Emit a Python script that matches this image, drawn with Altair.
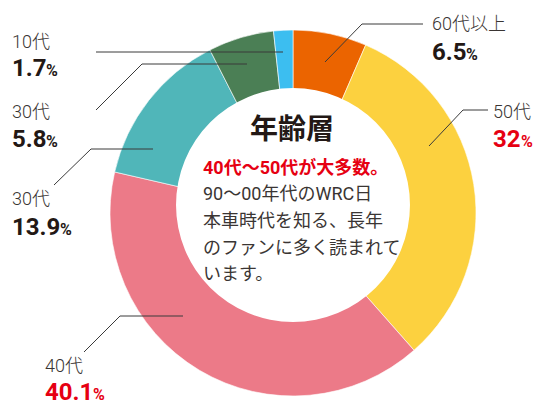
import altair as alt
import pandas as pd

# ---- data ----
seg_id = ["a60", "a50", "a40", "a30b", "a30a", "a10"]
seg_label = ["60代以上", "50代", "40代", "30代", "30代", "10代"]
seg_value = [6.5, 32, 40.1, 13.9, 5.8, 1.7]
seg_value_text = ["6.5", "32", "40.1", "13.9", "5.8", "1.7"]
seg_color = ["#EB6400", "#FCD13F", "#EC7A88", "#50B6B9", "#4B7F55", "#3CBEF0"]
val_color = ["#231815", "#E60012", "#E60012", "#231815", "#231815", "#231815"]

# ---- layout (image pixel coordinates) ----
lab_x = [432, 493, 45, 12, 12, 12]
lab_y = [30, 118, 372, 205, 118, 48]
val_y = [60, 147, 400, 235, 147, 76]
pct_x = [466, 521, 93, 60, 46, 46]
lead_x = [[325, 362, 423], [429, 463, 488], [183, 120, 84], [153, 91, 54], [247, 142, 96], [283, 190, 96]]
lead_y = [[62, 24, 24], [146, 110, 110], [316, 316, 352], [149, 149, 185], [64, 64, 110], [52, 52, 52]]

title_text = "年齢層"
body_lines = ["40代〜50代が大多数。", "90〜00年代のWRC日", "本車時代を知る、長年", "のファンに多く読まれて", "います。"]
body_colors = ["#E60012", "#3a3533", "#3a3533", "#3a3533", "#3a3533"]
body_y = [174, 200, 227, 254, 280]

CX, CY, R_OUT = 293, 213, 183
ICX, ICY, R_IN = 293, 205, 132
W, H = 526, 394
FONT = "Roboto, 'Noto Sans CJK JP'"
JP = "'Noto Sans CJK JP'"

seg = pd.DataFrame({"id": seg_id, "value": seg_value, "idx": list(range(6))})
xs = alt.Scale(domain=[8, 8 + W], nice=False, zero=False)
ys = alt.Scale(domain=[8, 8 + H], nice=False, zero=False, reverse=True)

pie = alt.Chart(seg).mark_arc(outerRadius=R_OUT, innerRadius=0, stroke="white", strokeWidth=0.6).encode(
    theta=alt.Theta("value:Q", stack=True),
    order=alt.Order("idx:Q"),
    color=alt.Color("id:N", scale=alt.Scale(domain=seg_id, range=seg_color), legend=None),
    x=alt.value(CX - 8),
    y=alt.value(CY - 8),
)

hole = alt.Chart(pd.DataFrame({"x": [ICX], "y": [ICY]})).mark_circle(
    size=3.14159265 * R_IN * R_IN, color="white", opacity=1, strokeWidth=0).encode(
    x=alt.X("x:Q", scale=xs, axis=None), y=alt.Y("y:Q", scale=ys, axis=None))

rows = []
for i in range(6):
    for k in range(3):
        rows.append({"g": i, "k": k, "x": lead_x[i][k], "y": lead_y[i][k]})
leaders = alt.Chart(pd.DataFrame(rows)).mark_line(color="#3a3a3a", strokeWidth=1).encode(
    x=alt.X("x:Q", scale=xs, axis=None),
    y=alt.Y("y:Q", scale=ys, axis=None),
    detail="g:N",
    order="k:Q",
)

lab = pd.DataFrame({"t": seg_label, "x": lab_x, "y": lab_y})
labels = alt.Chart(lab).mark_text(align="left", baseline="alphabetic", fontSize=18, font=FONT,
                                  fontWeight=300, color="#3a3533").encode(
    x=alt.X("x:Q", scale=xs, axis=None), y=alt.Y("y:Q", scale=ys, axis=None), text="t:N")

val = pd.DataFrame({"t": seg_value_text, "x": lab_x, "y": val_y, "c": val_color, "px": pct_x})
values = alt.Chart(val).mark_text(align="left", baseline="alphabetic", fontSize=24, font=FONT,
                                  fontWeight="bold").encode(
    x=alt.X("x:Q", scale=xs, axis=None), y=alt.Y("y:Q", scale=ys, axis=None), text="t:N",
    color=alt.Color("c:N", scale=None))
pcts = alt.Chart(val).mark_text(align="left", baseline="alphabetic", fontSize=16, font=FONT,
                                fontWeight="bold", text="%").encode(
    x=alt.X("px:Q", scale=xs, axis=None), y=alt.Y("y:Q", scale=ys, axis=None),
    color=alt.Color("c:N", scale=None))

title = alt.Chart(pd.DataFrame({"t": [title_text], "x": [292], "y": [139]})).mark_text(
    align="center", baseline="alphabetic", fontSize=28, font=JP, fontWeight="bold", color="#231815").encode(
    x=alt.X("x:Q", scale=xs, axis=None), y=alt.Y("y:Q", scale=ys, axis=None), text="t:N")

body = pd.DataFrame({"t": body_lines, "x": [203] * 5, "y": body_y, "c": body_colors})
body_red = alt.Chart(body.iloc[:1]).mark_text(align="left", baseline="alphabetic", fontSize=18,
                                              font=FONT, fontWeight="bold").encode(
    x=alt.X("x:Q", scale=xs, axis=None), y=alt.Y("y:Q", scale=ys, axis=None), text="t:N",
    color=alt.Color("c:N", scale=None))
body_rest = alt.Chart(body.iloc[1:]).mark_text(align="left", baseline="alphabetic", fontSize=18,
                                               font=FONT, fontWeight="normal").encode(
    x=alt.X("x:Q", scale=xs, axis=None), y=alt.Y("y:Q", scale=ys, axis=None), text="t:N",
    color=alt.Color("c:N", scale=None))

chart = alt.layer(pie, hole, leaders, labels, values, pcts, title, body_red, body_rest).properties(
    width=W, height=H, padding=0, autosize=alt.AutoSizeParams(type="none"), background="white"
).configure_view(stroke=None)

chart.save("out.html", embed_options={"renderer": "svg", "actions": False})
